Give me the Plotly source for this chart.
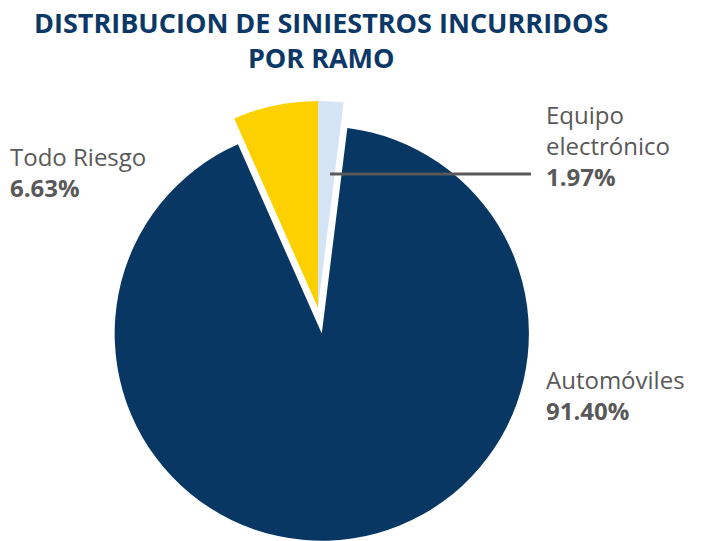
import plotly.graph_objects as go

# data
ramos = ["Equipo electrónico", "Automóviles", "Todo Riesgo"]
porcentajes = [1.97, 91.40, 6.63]
colores = ["#d5e4f4", "#083764", "#fdd100"]
separacion = [0, 0.125, 0]

W, H = 706, 541
M_L, M_R, M_T, M_B = 0, 70, 75, 0
PW, PH = W - M_L - M_R, H - M_T - M_B
FONT = "Open Sans"
GRIS = "#595959"
AZUL = "#0b3866"


def px(x, y):
    """pixel position -> paper coords"""
    return (x - M_L) / PW, (H - M_B - y) / PH


def texto(x, y, s, size, color, anchor="left"):
    ax, ay = px(x, y)
    fig.add_annotation(
        x=ax, y=ay, xref="paper", yref="paper",
        xanchor=anchor, yanchor="top", align=anchor, showarrow=False,
        text=s,
        font=dict(family=FONT, size=size, color=color),
    )


fig = go.Figure(go.Pie(
    labels=ramos,
    values=porcentajes,
    sort=False,
    direction="clockwise",
    rotation=0,
    pull=separacion,
    marker=dict(colors=colores, line=dict(width=0)),
    textinfo="none",
    hoverinfo="label+percent",
    showlegend=False,
))

# label position: x, cap-top of the first line
pos = {
    "Todo Riesgo": (10, 149),
    "Equipo electrónico": (546, 107),
    "Automóviles": (546, 372),
}
for nombre, valor in zip(ramos, porcentajes):
    x, y = pos[nombre]
    etiqueta = nombre.replace(" ", "<br>") if nombre == "Equipo electrónico" else nombre
    texto(x - 2, y - 11, f"{etiqueta}<br><b>{valor:.2f}%</b>", 24, GRIS)

# leader line for the small slice
x0, y0 = px(330, 174)
x1, _ = px(531, 174)
fig.add_shape(type="line", xref="paper", yref="paper",
              x0=x0, x1=x1, y0=y0, y1=y0,
              line=dict(color=GRIS, width=3))

# title
texto(321, 2, "<b>DISTRIBUCION DE SINIESTROS INCURRIDOS<br>POR RAMO</b>", 27, AZUL, anchor="center")

fig.update_layout(
    width=W, height=H,
    margin=dict(l=M_L, r=M_R, t=M_T, b=M_B),
    paper_bgcolor="white",
    plot_bgcolor="white",
)

fig.write_html("out.html", config={"displayModeBar": False},
               post_script="document.body.style.margin='0px';")
